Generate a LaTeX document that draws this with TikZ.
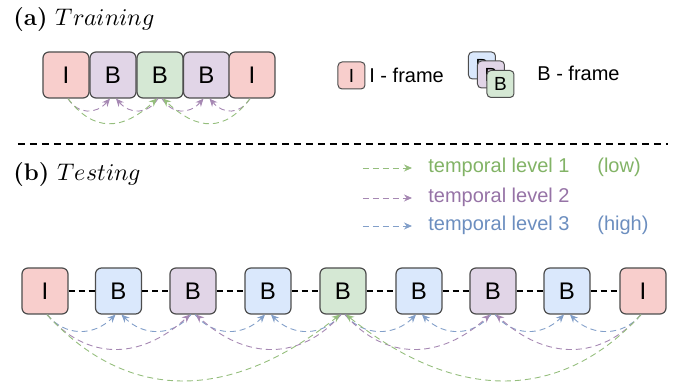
\documentclass[tikz,border=0pt]{standalone}
\usepackage{fontspec}
\setmainfont{Liberation Sans}
\usepackage{unicode-math}
\usetikzlibrary{arrows.meta,calc}
\newfontfamily\lmr{Latin Modern Roman}
\definecolor{redF}{HTML}{F8CECC}
\definecolor{purF}{HTML}{E1D5E7}
\definecolor{grnF}{HTML}{D5E8D4}
\definecolor{bluF}{HTML}{DAE8FC}
\definecolor{grnL}{HTML}{82B366}
\definecolor{purL}{HTML}{9673A6}
\definecolor{bluL}{HTML}{6C8EBF}
\definecolor{edge}{HTML}{4D4D4D}
\begin{document}
\begin{tikzpicture}[x=0.5pt,y=-0.5pt,
  frame/.style={draw=edge,line width=0.6pt,rounded corners=3pt,minimum width=23pt,minimum height=23pt,inner sep=0pt,font=\fontsize{12}{14}\selectfont},
  minif/.style={draw=edge,line width=0.5pt,rounded corners=2pt,minimum width=13.5pt,minimum height=13.5pt,inner sep=0pt,font=\fontsize{9.5}{11}\selectfont},
  ifr/.style={fill=redF},
  pfr/.style={fill=purF},
  gfr/.style={fill=grnF},
  bfr/.style={fill=bluF},
  lvl/.style={densely dashed,line width=0.45pt,-{Stealth[length=4pt,width=3.5pt]}},
  lv1/.style={lvl,draw=grnL!85},
  lv2/.style={lvl,draw=purL!85},
  lv3/.style={lvl,draw=bluL!85},
  link/.style={draw=black,line width=0.9pt,dash pattern=on 3pt off 2pt},
  title/.style={anchor=base west,inner sep=0pt,font=\fontsize{12}{14}\selectfont},
  txt/.style={anchor=west,inner sep=0pt,font=\fontsize{10}{12}\selectfont}
]
\useasboundingbox (0,0) rectangle (677,385);

% (a) Training
\node[title] (ta) at (13,26) {\lmr\bfseries (a)\hspace{4pt}\mdseries$Training$};
\node[frame,ifr] (a1) at (66,75) {I};
\node[frame,pfr] (a2) at (113,75) {B};
\node[frame,gfr] (a3) at (160,75) {B};
\node[frame,pfr] (a4) at (206.5,75) {B};
\node[frame,ifr] (a5) at (252,75) {I};
\draw[lv2] ([xshift=1pt]a1.south) .. controls +(10,16) and +(-14,16) .. ([xshift=-1.5pt]a2.south);
\draw[lv2] ([xshift=-1pt]a3.south) .. controls +(-10,16) and +(14,16) .. ([xshift=1.5pt]a2.south);
\draw[lv2] ([xshift=1pt]a3.south) .. controls +(10,16) and +(-14,16) .. ([xshift=-1.5pt]a4.south);
\draw[lv2] ([xshift=-1pt]a5.south) .. controls +(-10,16) and +(14,16) .. ([xshift=1.5pt]a4.south);
\draw[lv1] ([xshift=1pt]a1.south) .. controls +(25,33) and +(-35,33) .. ([xshift=-1.5pt]a3.south);
\draw[lv1] ([xshift=-1pt]a5.south) .. controls +(-25,33) and +(35,33) .. ([xshift=1.5pt]a3.south);

% legend frames
\node[minif,ifr] (li) at (351.5,75.5) {I};
\node[txt] (lit) at (369,75) {I - frame};
\node[minif,bfr] (lb1) at (482,65.5) {B};
\node[minif,pfr] (lb2) at (491,74.5) {B};
\node[minif,gfr] (lb3) at (500.5,84) {B};
\node[txt] (lbt) at (537,73) {B - frame};

% separator
\coordinate (s1) at (18,144);
\coordinate (s2) at (668,144);
\draw[black,line width=0.8pt,dash pattern=on 3.5pt off 2.5pt] (s1) -- (s2);

% (b) Testing
\node[title] (tb) at (13,181) {\lmr\bfseries (b)\hspace{4pt}\mdseries$Testing$};

% temporal level legend
\coordinate (g1) at (363,168); \coordinate (g2) at (412,168);
\coordinate (p1) at (363,198); \coordinate (p2) at (412,198);
\coordinate (q1) at (363,226); \coordinate (q2) at (412,226);
\draw[lv1] (g1) -- (g2);
\draw[lv2] (p1) -- (p2);
\draw[lv3] (q1) -- (q2);
\node[txt,text=grnL] (gt) at (428,167) {temporal level 1};
\node[txt,text=grnL] (gl) at (597,167) {(low)};
\node[txt,text=purL] (pt) at (428,197) {temporal level 2};
\node[txt,text=bluL] (qt) at (428,225) {temporal level 3};
\node[txt,text=bluL] (qh) at (597,225) {(high)};

% testing row
\node[frame,ifr] (b0) at (45,291) {I};
\node[frame,bfr] (b1) at (118.5,291) {B};
\node[frame,pfr] (b2) at (193,291) {B};
\node[frame,bfr] (b3) at (268,291) {B};
\node[frame,gfr] (b4) at (343,291) {B};
\node[frame,bfr] (b5) at (419,291) {B};
\node[frame,pfr] (b6) at (493,291) {B};
\node[frame,bfr] (b7) at (567,291) {B};
\node[frame,ifr] (b8) at (643,291) {I};
\foreach \a/\b in {b0/b1,b1/b2,b2/b3,b3/b4,b4/b5,b5/b6,b6/b7,b7/b8}
  \draw[link] (\a.east) -- (\b.west);

% level 3
\foreach \s/\t/\u in {b0/b1/b2,b2/b3/b4,b4/b5/b6,b6/b7/b8}{
  \draw[lv3] ([xshift=1pt]\s.south) .. controls +(18,22) and +(-22,22) .. ([xshift=-1.5pt]\t.south);
  \draw[lv3] ([xshift=-1pt]\u.south) .. controls +(-18,22) and +(22,22) .. ([xshift=1.5pt]\t.south);
}
% level 2
\foreach \s/\t/\u in {b0/b2/b4,b4/b6/b8}{
  \draw[lv2] ([xshift=1pt]\s.south) .. controls +(40,46) and +(-50,46) .. ([xshift=-1.5pt]\t.south);
  \draw[lv2] ([xshift=-1pt]\u.south) .. controls +(-40,46) and +(50,46) .. ([xshift=1.5pt]\t.south);
}
% level 1
\draw[lv1] ([xshift=1pt]b0.south) .. controls +(80,88) and +(-110,88) .. ([xshift=-1.5pt]b4.south);
\draw[lv1] ([xshift=-1pt]b8.south) .. controls +(-80,88) and +(110,88) .. ([xshift=1.5pt]b4.south);
\end{tikzpicture}
\end{document}
